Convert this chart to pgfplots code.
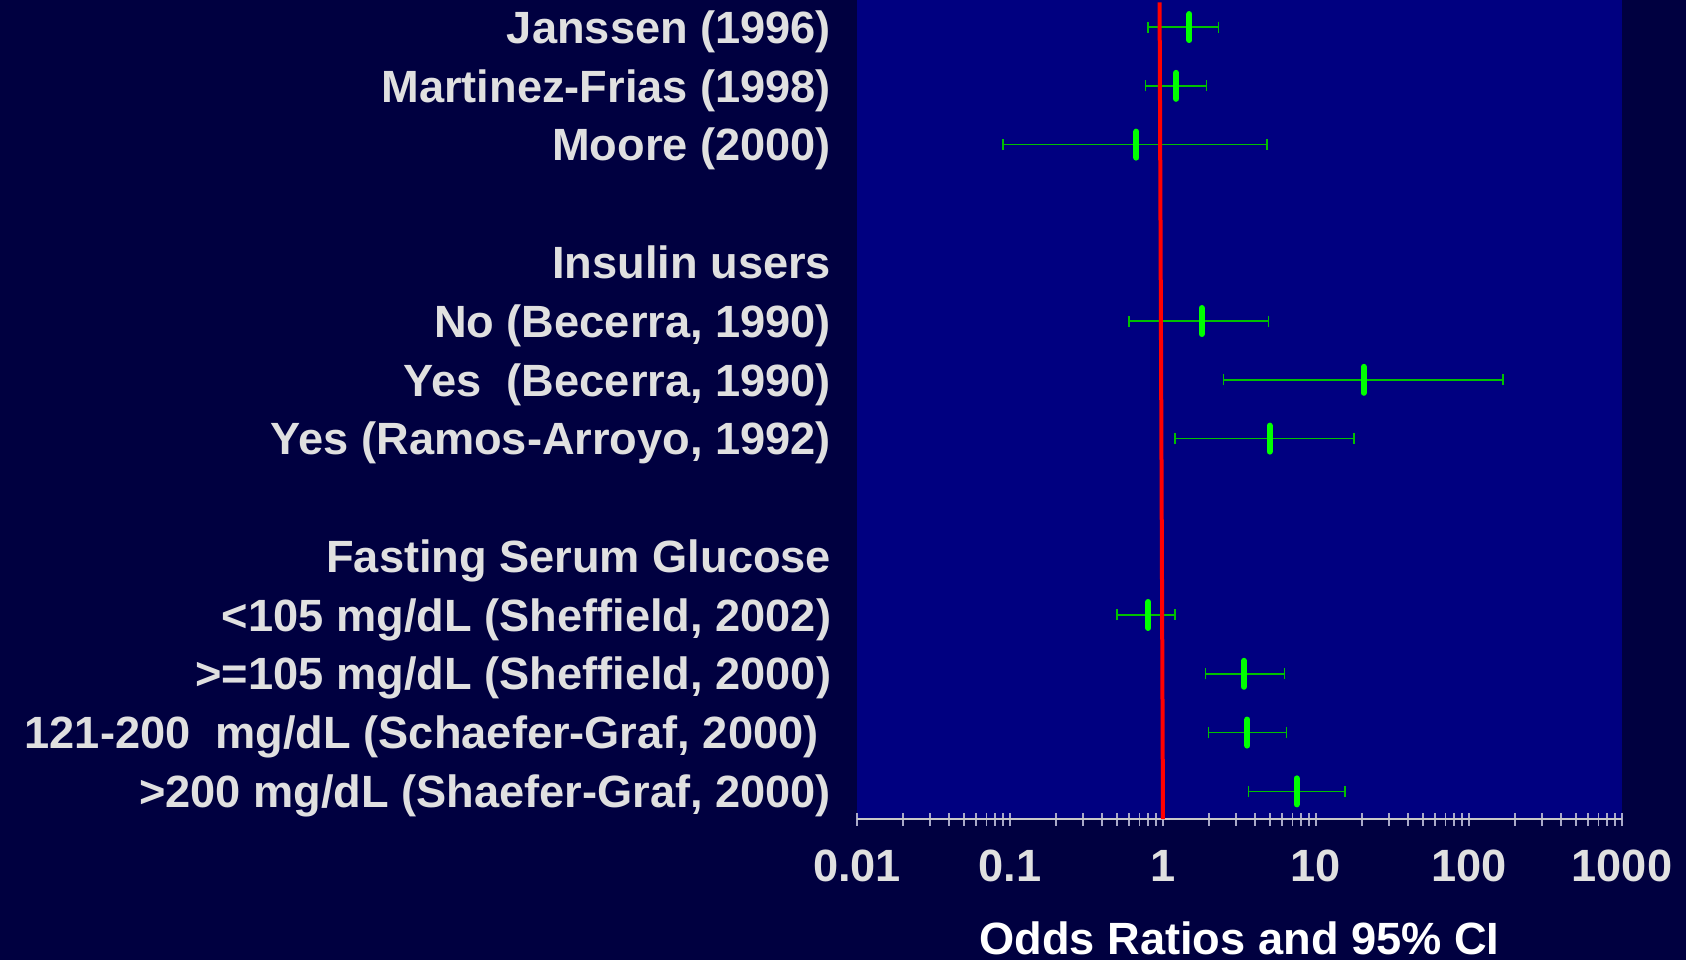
\documentclass[border=0pt]{standalone}
\usepackage{fontspec}
\setmainfont{Liberation Sans}
\usepackage{pgfplots}
\usepackage{pgfplotstable}
\pgfplotsset{compat=1.18}

\definecolor{bgdark}{HTML}{000040}
\definecolor{plotnavy}{HTML}{000080}
\definecolor{labelgray}{HTML}{E0E0E0}
\definecolor{axisgray}{HTML}{C8C8C8}
\definecolor{tickgray}{HTML}{A8A8C8}
\definecolor{ptgreen}{HTML}{00FF00}
\definecolor{errgreen}{HTML}{00C000}

% row, odds ratio, lower and upper 95% CI
\pgfplotstableread{
row est lo hi
0 1.49 0.80 2.30
1 1.22 0.77 1.92
2 0.67 0.09 4.78
5 1.79 0.60 4.88
6 20.5 2.49 167
7 4.98 1.20 17.7
10 0.80 0.50 1.20
11 3.38 1.89 6.21
12 3.56 1.98 6.40
13 7.48 3.61 15.5
}\ordata

\begin{document}
\begin{tikzpicture}
  \fill[bgdark] (0,0) rectangle (843bp,480bp);
  \begin{axis}[
      at={(428.5bp,70.5bp)}, anchor=south west,
      scale only axis,
      width=382.5bp, height=409.5bp,
      xmode=log,
      xmin=0.01, xmax=1000,
      ymin=-0.46, ymax=13.47,
      y dir=reverse,
      axis background/.style={fill=plotnavy},
      axis x line*=bottom,
      axis y line*=left,
      x axis line style={draw=axisgray, line width=1.25bp},
      y axis line style={draw=none},
      xtick={0.01,0.1,1,10,100,1000},
      xticklabels={0.01,0.1,1,10,100,1000},
      xtick style={draw=tickgray, line width=0.7bp},
      minor x tick style={draw=tickgray, line width=0.7bp},
      tick align=center,
      major tick length=6.5bp,
      minor tick length=6.5bp,
      ytick={0,1,2,4,5,6,7,9,10,11,12,13},
      yticklabels={
        {Janssen (1996)},
        {Martinez-Frias (1998)\ },
        {Moore (2000)},
        {Insulin users},
        {No (Becerra, 1990)},
        {Yes\ \ (Becerra, 1990)},
        {Yes (Ramos-Arroyo, 1992)},
        {Fasting Serum Glucose},
        {<105 mg/dL (Sheffield, 2002)},
        {>=105 mg/dL (Sheffield, 2000)},
        {121-200\ \ mg/dL (Schaefer-Graf, 2000)\ \ },
        {>200 mg/dL (Shaefer-Graf, 2000)}},
      ytick style={draw=none},
      /pgf/number format/assume math mode=true,
      yticklabel style={font=\fontsize{22.6bp}{27bp}\selectfont\bfseries,
        text=labelgray, anchor=base east, inner sep=0pt,
        xshift=-9.5bp, yshift=-8.1bp},
      xticklabel style={font=\fontsize{22.6bp}{27bp}\selectfont\bfseries,
        text=labelgray, anchor=north, inner sep=0pt, yshift=-12bp},
      xlabel={Odds Ratios and 95\% CI},
      xlabel style={at={(axis description cs:0.5,0)}, anchor=north,
        inner sep=0pt, yshift=-51bp,
        font=\fontsize{22.6bp}{27bp}\selectfont\bfseries, text=white},
    ]

    % confidence intervals
    \addplot[draw=none, forget plot,
      error bars/.cd, x dir=both, x explicit,
      error bar style={draw=errgreen, line width=0.75bp},
      error mark=|,
      error mark options={draw=errgreen, line width=0.75bp, mark size=2.75bp}]
      table[x=est, y=row,
        x error plus expr=\thisrow{hi}-\thisrow{est},
        x error minus expr=\thisrow{est}-\thisrow{lo}] {\ordata};

    % line of no effect
    \addplot[draw=red, line width=2bp, forget plot]
      coordinates {(0.95,-0.42) (1,13.47)};

    % point estimates
    \addplot[only marks, mark=|, mark size=6.5bp,
      mark options={draw=ptgreen, line width=3bp, line cap=round}]
      table[x=est, y=row] {\ordata};
  \end{axis}
  \pgfresetboundingbox
  \useasboundingbox (0,0) rectangle (843bp,480bp);
\end{tikzpicture}
\end{document}
